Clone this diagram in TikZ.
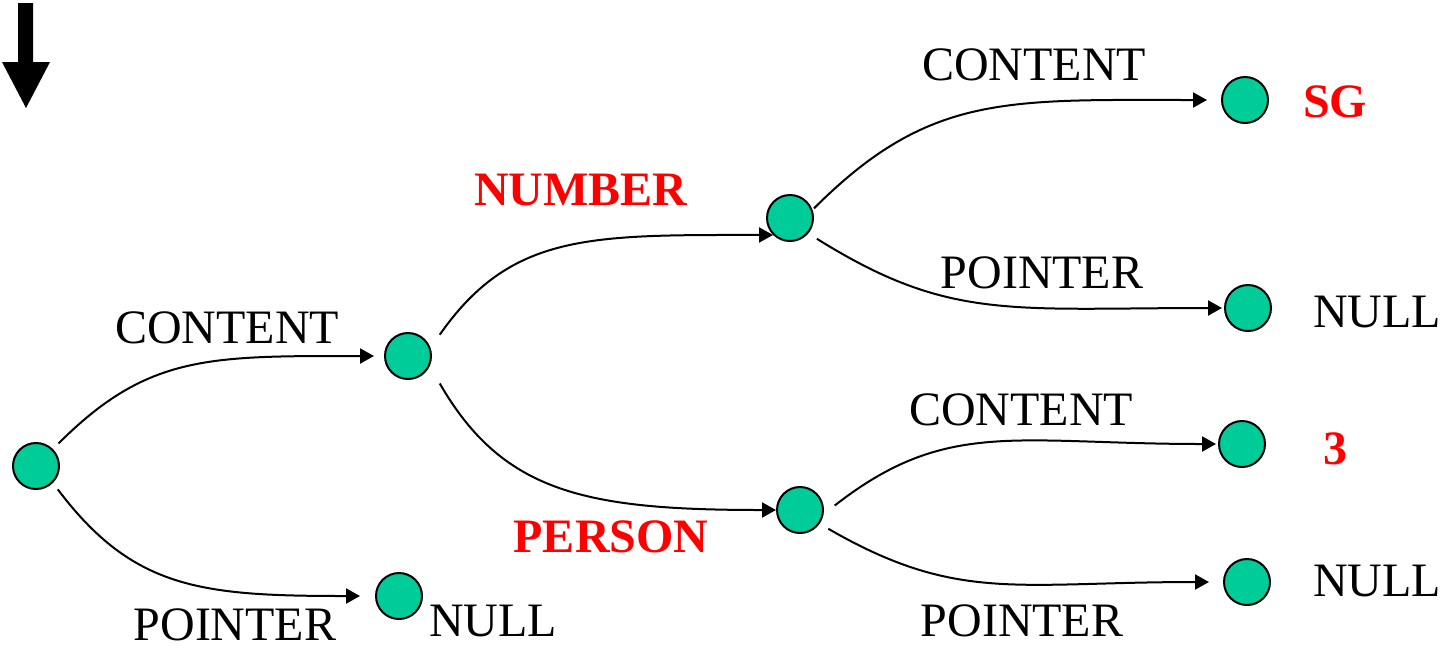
\documentclass[tikz,border=0pt]{standalone}
\usepackage{fontspec}
\setmainfont{Liberation Serif}
\usepackage{tikz}
\usepackage{xcolor}
\usetikzlibrary{arrows.meta}
\definecolor{nodegreen}{RGB}{0,204,153}

\begin{document}
\begin{tikzpicture}[
  x=0.5pt, y=-0.5pt,
  dot/.style = {circle, draw, fill=nodegreen, line width=1pt, minimum size=23pt, inner sep=0pt},
  lbl/.style = {inner sep=0pt, font=\fontsize{24}{28}\selectfont},
  val/.style = {inner sep=0pt, text=red, font=\fontsize{24}{28}\selectfont\bfseries},
  link/.style = {->, line width=1pt, in looseness=1.3},
  >={Triangle[length=7pt, width=7.5pt]}
  ]
  \useasboundingbox (0,0) rectangle (1450,650);

  % Fleche du haut
  \fill (18,3) -- (33,3) -- (33,62) -- (50,62) -- (26,108) -- (2,62) -- (18,62) -- cycle;

  % Noeuds
  \node[dot] (root) at (36,466) {};
  \node[dot] (mid) at (408,356) {};
  \node[dot] (null a) at (399,596) {};
  \node[dot] (num) at (790,218) {};
  \node[dot] (per) at (800,510) {};
  \node[dot] (sg) at (1245,100) {};
  \node[dot] (null b) at (1248,308) {};
  \node[dot] (three) at (1242,444) {};
  \node[dot] (null c) at (1247,582) {};

  % Etiquettes
  \node[lbl] (content a) at (227,328) {CONTENT};
  \node[lbl] (pointer a) at (235,625) {POINTER};
  \node[lbl] (null a text) at (493,621) {NULL};
  \node[val] (number) at (581,190) {NUMBER};
  \node[val] (person) at (611,537) {PERSON};
  \node[lbl] (content b) at (1034,65) {CONTENT};
  \node[lbl] (pointer b) at (1042,273) {POINTER};
  \node[lbl] (content c) at (1021,410) {CONTENT};
  \node[lbl] (pointer c) at (1022,621) {POINTER};
  \node[val] (sg text) at (1335,102) {SG};
  \node[lbl] (null b text) at (1377,312) {NULL};
  \node[val] (three text) at (1335,449) {3};
  \node[lbl] (null c text) at (1377,581) {NULL};

  % Arcs
  \draw[link, shorten <=4pt, shorten >=5pt] (root.45) to[out=45, in=180] (mid.west);
  \draw[link, shorten <=4pt, shorten >=7.5pt] (root.-45) to[out=-53, in=180] (null a.west);
  \draw[link, shorten <=8pt] (mid.20) to[out=55, in=180] (num.south west);
  \draw[link, shorten <=10pt] (mid.-25) to[out=-60, in=180] (per.west);
  \draw[link, shorten <=1pt, shorten >=7pt] (num.20) to[out=45, in=180] (sg.west);
  \draw[link, shorten <=5pt, shorten >=1pt] (num.-40) to[out=-32, in=180] (null b.west);
  \draw[link, shorten <=7pt, shorten >=1pt] (per.-10) to[out=38, in=180] (three.west);
  \draw[link, shorten <=5pt, shorten >=7pt] (per.-35) to[out=-30, in=180] (null c.west);

\end{tikzpicture}
\end{document}
